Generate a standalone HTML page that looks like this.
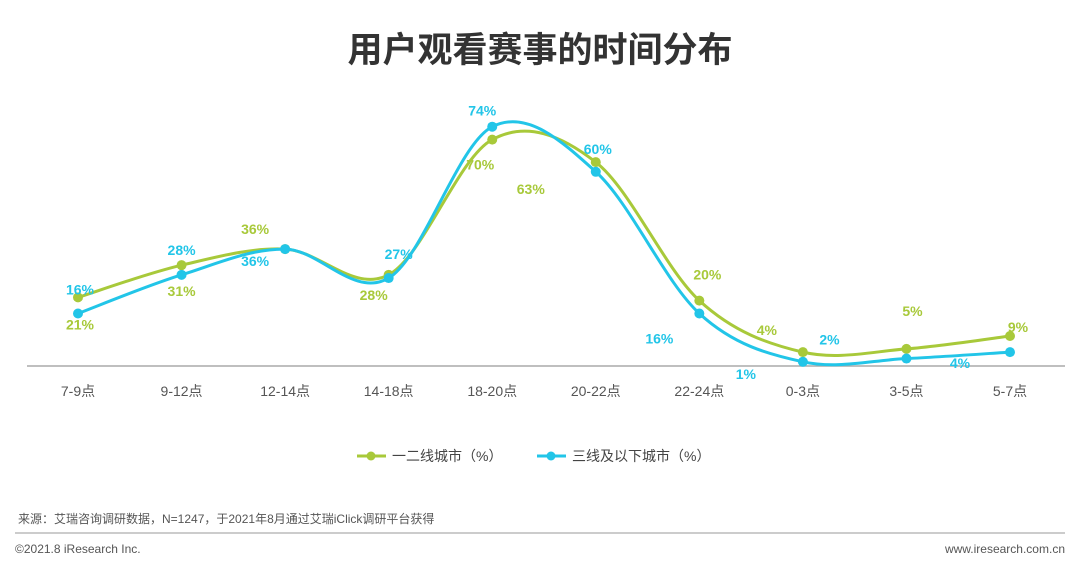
<!DOCTYPE html>
<html><head><meta charset="utf-8">
<style>
html,body{margin:0;padding:0;background:#fff;}
body{width:1080px;height:565px;overflow:hidden;font-family:"Liberation Sans","Noto Sans CJK SC",sans-serif;}
svg{display:block}
</style></head>
<body>
<svg id="chart" width="1080" height="565" viewBox="0 0 1080 565">
  <text x="540" y="62" text-anchor="middle" font-size="35" font-weight="bold" fill="#333" font-family="Liberation Sans, Noto Sans CJK SC, sans-serif">用户观看赛事的时间分布</text>
  <line x1="27" y1="366" x2="1065" y2="366" stroke="#aaa" stroke-width="1.5"/>
  <g id="ticks"></g>
  <g id="series"></g>
  <g id="legend">
    <g>
      <line x1="357" y1="456" x2="386" y2="456" stroke="#a8c93a" stroke-width="3"/>
      <circle cx="371" cy="456" r="4.5" fill="#a8c93a"/>
      <text x="392" y="461" font-size="14" fill="#444">一二线城市（%）</text>
    </g>
    <g>
      <line x1="537" y1="456" x2="566" y2="456" stroke="#22c5e8" stroke-width="3"/>
      <circle cx="551" cy="456" r="4.5" fill="#22c5e8"/>
      <text x="572" y="461" font-size="14" fill="#444">三线及以下城市（%）</text>
    </g>
  </g>
  <text x="18" y="523" font-size="12" fill="#555">来源：艾瑞咨询调研数据，N=1247，于2021年8月通过艾瑞iClick调研平台获得</text>
  <line x1="15" y1="533" x2="1065" y2="533" stroke="#999" stroke-width="1"/>
  <text x="15" y="553" font-size="12" fill="#555">©2021.8 iResearch Inc.</text>
  <text x="1065" y="553" font-size="12" fill="#555" text-anchor="end">www.iresearch.com.cn</text>
</svg>
<script>
const categories = ["7-9点","9-12点","12-14点","14-18点","18-20点","20-22点","22-24点","0-3点","3-5点","5-7点"];
const tier1Values = [21,31,36,28,70,63,20,4,5,9];
const tier3Values = [16,28,36,27,74,60,16,1,2,4];
// label offsets (layout only, px relative to point)
const tier1LabelOffsets = [[2,27],[0,26],[-30,-20],[-15,20],[-12,25],[-65,27],[8,-26],[-36,-22],[6,-38],[8,-9]];
const tier3LabelOffsets = [[2,-24],[0,-25],[-30,12],[10,-24],[-10,-16],[2,-23],[-40,25],[-57,12],[-77,-19],[-50,11]];

const NS = "http://www.w3.org/2000/svg";
const svg = document.getElementById("chart");
const xScale = i => 78 + i * (932 / (categories.length - 1));
const yScale = v => 365 - v * 3.22;

const ticks = document.getElementById("ticks");
categories.forEach((c, i) => {
  const t = document.createElementNS(NS, "text");
  t.setAttribute("x", xScale(i));
  t.setAttribute("y", 396);
  t.setAttribute("text-anchor", "middle");
  t.setAttribute("font-size", "14");
  t.setAttribute("fill", "#555");
  t.textContent = c;
  
  
  ticks.appendChild(t);
});

function smoothPath(pts) {
  let d = "M" + pts[0][0] + "," + pts[0][1];
  for (let i = 0; i < pts.length - 1; i++) {
    const p0 = pts[i - 1] || pts[i], p1 = pts[i], p2 = pts[i + 1], p3 = pts[i + 2] || p2;
    const c1x = p1[0] + (p2[0] - p0[0]) / 6, c1y = p1[1] + (p2[1] - p0[1]) / 6;
    const c2x = p2[0] - (p3[0] - p1[0]) / 6, c2y = p2[1] - (p3[1] - p1[1]) / 6;
    d += " C" + c1x + "," + c1y + " " + c2x + "," + c2y + " " + p2[0] + "," + p2[1];
  }
  return d;
}

const seriesG = document.getElementById("series");
function drawSeries(values, color, offsets, name) {
  const g = document.createElementNS(NS, "g");
  
  
  const pts = values.map((v, i) => [xScale(i), yScale(v)]);
  const path = document.createElementNS(NS, "path");
  path.setAttribute("d", smoothPath(pts));
  path.setAttribute("fill", "none");
  path.setAttribute("stroke", color);
  path.setAttribute("stroke-width", "3");
  
  
  g.appendChild(path);
  pts.forEach((p, i) => {
    const c = document.createElementNS(NS, "circle");
    c.setAttribute("cx", p[0]); c.setAttribute("cy", p[1]); c.setAttribute("r", 5);
    c.setAttribute("fill", color);
    
    
    g.appendChild(c);
    const t = document.createElementNS(NS, "text");
    t.setAttribute("x", p[0] + offsets[i][0]);
    t.setAttribute("y", p[1] + offsets[i][1] + 5);
    t.setAttribute("text-anchor", "middle");
    t.setAttribute("font-size", "14");
    t.setAttribute("font-weight", "bold");
    t.setAttribute("fill", color);
    t.textContent = values[i] + "%";
    
    
    g.appendChild(t);
  });
  seriesG.appendChild(g);
}
drawSeries(tier1Values, "#a8c93a", tier1LabelOffsets, "tier1-series");
drawSeries(tier3Values, "#22c5e8", tier3LabelOffsets, "tier3-series");
</script>
</body></html>
